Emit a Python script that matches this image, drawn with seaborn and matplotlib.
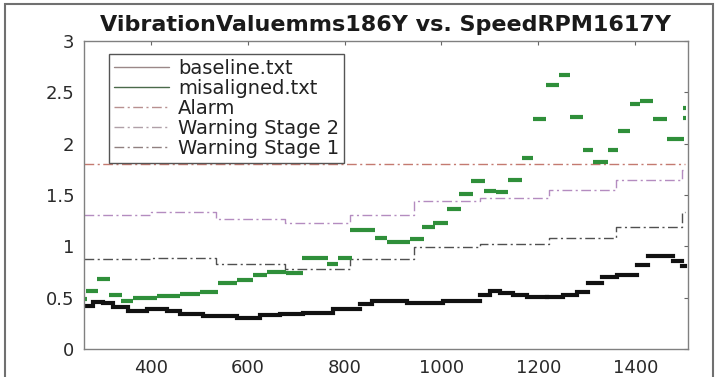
import numpy as np
import pandas as pd
import matplotlib
matplotlib.use("Agg")
import matplotlib.pyplot as plt
from matplotlib.lines import Line2D
from matplotlib.patches import Rectangle
import seaborn as sns

# ---------------- data ----------------
title = "VibrationValuemms186Y vs. SpeedRPM1617Y"
series_names = ["baseline.txt", "misaligned.txt", "Alarm", "Warning Stage 2", "Warning Stage 1"]

# baseline: contiguous speed bins (edges) and vibration levels
base_edges = [262, 281, 301, 322, 353, 392, 433, 460, 508, 578, 625, 667, 714, 776, 832,
              856, 929, 1003, 1079, 1100, 1121, 1147, 1176, 1218, 1251, 1280, 1302, 1331,
              1362, 1403, 1426, 1478, 1496, 1503]
base_vals = [0.42, 0.46, 0.45, 0.41, 0.37, 0.39, 0.37, 0.345, 0.32, 0.305, 0.33, 0.34,
             0.355, 0.39, 0.44, 0.47, 0.45, 0.47, 0.53, 0.57, 0.55, 0.53, 0.505, 0.51,
             0.53, 0.555, 0.64, 0.70, 0.72, 0.82, 0.905, 0.86, 0.81]

# misaligned: speed bin start / end and vibration level
mis_x0 = [262, 266, 288, 313, 338, 363, 413, 460, 501, 539, 578, 611, 640, 680, 712, 764,
          786, 811, 863, 887, 935, 960, 982, 1011, 1036, 1061, 1088, 1112, 1137, 1166,
          1189, 1216, 1242, 1266, 1292, 1313, 1344, 1364, 1389, 1410, 1436, 1465, 1498, 1499]
mis_x1 = [268, 290, 316, 340, 363, 413, 460, 501, 539, 578, 611, 640, 680, 714, 766, 786,
          815, 863, 887, 935, 963, 986, 1013, 1040, 1065, 1090, 1112, 1137, 1166, 1189,
          1216, 1242, 1266, 1292, 1313, 1344, 1364, 1389, 1410, 1436, 1465, 1500, 1505, 1505]
mis_vals = [0.49, 0.57, 0.68, 0.53, 0.47, 0.50, 0.52, 0.54, 0.56, 0.645, 0.675, 0.72,
            0.75, 0.74, 0.89, 0.83, 0.89, 1.16, 1.08, 1.04, 1.07, 1.19, 1.23, 1.36, 1.51,
            1.64, 1.54, 1.53, 1.65, 1.86, 2.24, 2.57, 2.67, 2.26, 1.94, 1.82, 1.94, 2.12,
            2.38, 2.41, 2.24, 2.04, 2.25, 2.35]

# thresholds (stairs)
thr_edges = [262, 400, 535, 676, 812, 944, 1080, 1222, 1361, 1497, 1503]
alarm_vals = [1.8] * 10
warn2_vals = [1.31, 1.335, 1.27, 1.225, 1.31, 1.44, 1.47, 1.545, 1.645, 1.74]
warn1_vals = [0.875, 0.89, 0.83, 0.78, 0.875, 0.99, 1.02, 1.085, 1.185, 1.33]

x_ticks = [400, 600, 800, 1000, 1200, 1400]
y_ticks = [0, 0.5, 1, 1.5, 2, 2.5, 3]
y_ticklabels = ["0", "0.5", "1", "1.5", "2", "2.5", "3"]

# ---------------- build tables ----------------
def segments(x0, x1, y):
    rows = []
    for i, (a, b, v) in enumerate(zip(x0, x1, y)):
        rows.append((i, a, v))
        rows.append((i, b, v))
    return pd.DataFrame(rows, columns=["seg", "speed", "vib"])

base_df = segments(base_edges[:-1], base_edges[1:], base_vals)
mis_df = segments(mis_x0, mis_x1, mis_vals)

def stairs(edges, vals):
    return pd.DataFrame({"speed": edges, "vib": list(vals) + [vals[-1]]})

# ---------------- figure ----------------
sns.set_theme(style="white")
plt.rcParams["font.family"] = ["DejaVu Sans"]

W, H = 718, 377
fig = plt.figure(figsize=(W / 100, H / 100), dpi=100)
fig.patch.set_facecolor("white")
ax = fig.add_axes([84 / W, (H - 349.3) / H, 604 / W, 308.6 / H])
ax.set_facecolor("white")

dash = (0, (7, 2.5, 1.5, 2.5))
c_alarm, c_w2, c_w1 = "#c47a70", "#b48cc0", "#505050"

sns.lineplot(data=stairs(thr_edges, alarm_vals), x="speed", y="vib", ax=ax,
             drawstyle="steps-post", color=c_alarm, lw=1.0, linestyle=dash)
sns.lineplot(data=stairs(thr_edges, warn2_vals), x="speed", y="vib", ax=ax,
             drawstyle="steps-post", color=c_w2, lw=1.0, linestyle=dash)
sns.lineplot(data=stairs(thr_edges, warn1_vals), x="speed", y="vib", ax=ax,
             drawstyle="steps-post", color=c_w1, lw=1.0, linestyle=dash)

sns.lineplot(data=base_df, x="speed", y="vib", units="seg", estimator=None, ax=ax,
             color="#111111", lw=3.0, sort=False, solid_capstyle="projecting")
sns.lineplot(data=mis_df, x="speed", y="vib", units="seg", estimator=None, ax=ax,
             color="#2f8f3a", lw=3.0, sort=False, solid_capstyle="butt")

ax.set_xlim(262, 1509)
ax.set_ylim(0, 3)
ax.set_xticks(x_ticks)
ax.set_xticklabels([str(t) for t in x_ticks])
ax.set_yticks(y_ticks)
ax.set_yticklabels(y_ticklabels)
ax.set_xlabel("")
ax.set_ylabel("")
ax.tick_params(direction="in", length=3, width=0.8, color="#666666",
               top=True, right=True, labelsize=13, labelcolor="#2a2a2a", pad=7)
for s in ax.spines.values():
    s.set_color("#808080")
    s.set_linewidth(1.0)

ax.set_title(title, fontsize=16, fontweight="bold", color="#1a1a1a", pad=7)

handles = [
    Line2D([], [], color="#9a8888", lw=1.0),
    Line2D([], [], color="#4a6a4a", lw=1.0),
    Line2D([], [], color="#b89090", lw=1.0, linestyle=dash),
    Line2D([], [], color="#b0a0a8", lw=1.0, linestyle=dash),
    Line2D([], [], color="#908080", lw=1.0, linestyle=dash),
]
leg = ax.legend(handles, series_names, loc="upper left", bbox_to_anchor=(0.041, 0.957),
                borderaxespad=0, fontsize=14, handlelength=2.85, handletextpad=0.45,
                labelspacing=0.05, borderpad=0.25, fancybox=False, framealpha=1,
                edgecolor="#555555")
leg.get_frame().set_linewidth(1.0)
for t in leg.get_texts():
    t.set_color("#222222")

# outer frame of the picture
fig.add_artist(Rectangle((5 / W, -0.05), 708 / W, (H - 4) / H + 0.05, transform=fig.transFigure,
                         fill=False, edgecolor="#707070", lw=1.5, clip_on=False))

fig.savefig("out.png", dpi=100)
